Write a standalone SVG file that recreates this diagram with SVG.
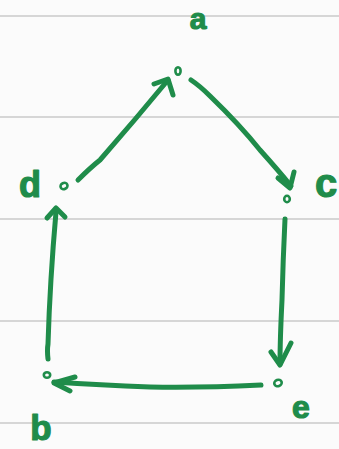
<svg xmlns="http://www.w3.org/2000/svg" width="339" height="449" viewBox="0 0 339 449">
<style>
.rule{stroke:#d6d6d6;stroke-width:2}
.ink{fill:none;stroke:#1f8c4a;stroke-width:5;stroke-linecap:round;stroke-linejoin:round}
.node{fill:none;stroke:#1f8c4a;stroke-width:2.6}
.lbl{fill:#1f8c4a;stroke:#1f8c4a;stroke-width:1.2;stroke-linejoin:round;font-family:"Liberation Sans",Arial,sans-serif;font-weight:bold;text-anchor:middle}
</style>
<rect width="339" height="449" fill="#fbfbfb"/>
<g id="ruling">
<line class="rule" x1="0" y1="16" x2="339" y2="16"/>
<line class="rule" x1="0" y1="117" x2="339" y2="117"/>
<line class="rule" x1="0" y1="219" x2="339" y2="219"/>
<line class="rule" x1="0" y1="321" x2="339" y2="321"/>
<line class="rule" x1="0" y1="423" x2="339" y2="423"/>
</g>
<g id="connectors">
<g id="d-a"><path class="ink" d="M78,180 Q90,168 100,160 Q135,120 168,80"/><path class="ink" d="M154,84 L168,79 L173,95"/></g>
<g id="a-c"><path class="ink" d="M191,80 Q200,86 210,96 Q240,125 260,150 Q278,170 291,186"/><path class="ink" d="M278,178 L290,188 L294,172"/></g>
<g id="c-e"><path class="ink" d="M285,219 Q283,260 282,300 Q280,340 280,364"/><path class="ink" d="M271,352 L280,365 L291,343"/></g>
<g id="e-b"><path class="ink" d="M261,385 Q200,388 150,387 Q100,385 54,382"/><path class="ink" d="M75,377 L54,383 L70,391"/></g>
<g id="b-d"><path class="ink" d="M48,359 Q47,350 48,344 Q50,280 56,212"/><path class="ink" d="M47,218 L56,208 L65,217"/></g>
</g>
<g id="node-a"><ellipse class="node" cx="178" cy="71" rx="2.6" ry="3.8"/><text class="lbl" x="198" y="29" font-size="30">a</text></g>
<g id="node-d"><ellipse class="node" cx="64" cy="186" rx="3.6" ry="3" transform="rotate(-25 64 186)"/><text class="lbl" x="30" y="197" font-size="36">d</text></g>
<g id="node-c"><ellipse class="node" cx="287" cy="199" rx="2.8" ry="3.2"/><text class="lbl" x="326" y="197" font-size="40">c</text></g>
<g id="node-e"><ellipse class="node" cx="278" cy="383" rx="3.8" ry="3.2" transform="rotate(-20 278 383)"/><text class="lbl" x="301" y="418" font-size="32">e</text></g>
<g id="node-b"><ellipse class="node" cx="47" cy="375" rx="3.2" ry="2.8"/><text class="lbl" x="41" y="440" font-size="35">b</text></g>
</svg>
